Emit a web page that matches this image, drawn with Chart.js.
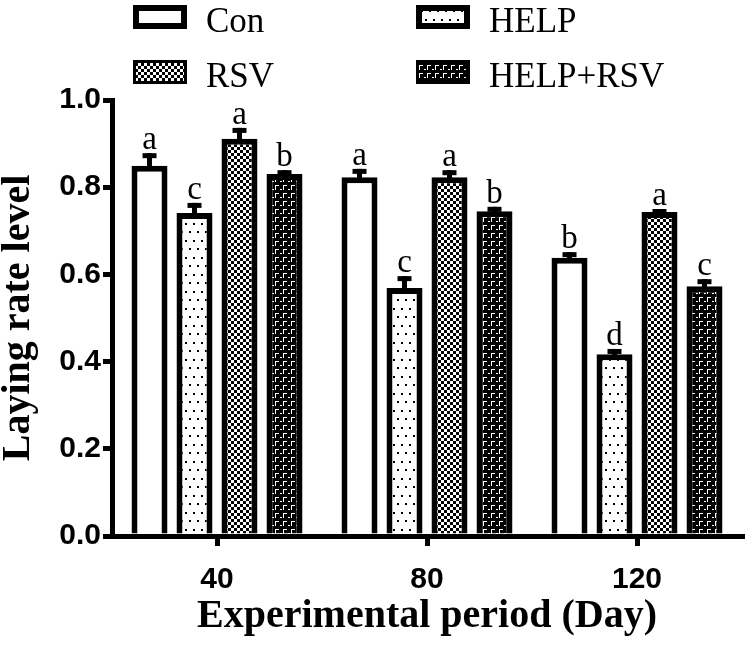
<!DOCTYPE html>
<html>
<head>
<meta charset="utf-8">
<script src="https://cdn.jsdelivr.net/npm/chart.js@4.4.0/dist/chart.umd.min.js"></script>
<style>
  html, body { margin: 0; padding: 0; background: #fff; }
</style>
</head>
<body>
<canvas id="grafico" width="747" height="647"></canvas>
<script>
// Datos
const dias = [40, 80, 120];
const grupos = ['Con', 'HELP', 'RSV', 'HELP+RSV'];
const valCon = [0.849, 0.823, 0.638];
const valHelp = [0.741, 0.569, 0.417];
const valRsv = [0.911, 0.823, 0.743];
const valHelpRsv = [0.830, 0.745, 0.573];
const errCon = [0.029, 0.019, 0.013];
const errHelp = [0.023, 0.027, 0.012];
const errRsv = [0.025, 0.016, 0.007];
const errHelpRsv = [0.009, 0.010, 0.016];
const letrasCon = ['a', 'a', 'b'];
const letrasHelp = ['c', 'c', 'd'];
const letrasRsv = ['a', 'a', 'a'];
const letrasHelpRsv = ['b', 'b', 'c'];
const ticksY = [0, 0.2, 0.4, 0.6, 0.8, 1.0];

const valores = [valCon, valHelp, valRsv, valHelpRsv];
const errores = [errCon, errHelp, errRsv, errHelpRsv];
const letras = [letrasCon, letrasHelp, letrasRsv, letrasHelpRsv];

const canvas = document.getElementById('grafico');
const ctx = canvas.getContext('2d');
const serif = '"Liberation Serif", "Times New Roman", serif';
const sans = '"Liberation Sans", Arial, sans-serif';

// Tramas de relleno de cada grupo
function hacerPatron(ancho, alto, fondo, dibujar) {
    let c = document.createElement('canvas');
    c.width = ancho;
    c.height = alto;
    let g = c.getContext('2d');
    g.fillStyle = fondo;
    g.fillRect(0, 0, ancho, alto);
    g.fillStyle = fondo === '#000' ? '#fff' : '#000';
    dibujar(g);
    return ctx.createPattern(c, 'repeat');
}
const puntos = hacerPatron(8, 17, '#fff', g => {
    g.fillRect(1, 2, 2, 2);
    g.fillRect(5, 10, 2, 2);
});
const cuadros = hacerPatron(6, 6, '#fff', g => {
    g.fillRect(0, 0, 3, 3);
    g.fillRect(3, 3, 3, 3);
});
const esquinas = hacerPatron(8, 8, '#000', g => {
    g.fillRect(0, 5, 2, 1);
    g.fillRect(3, 1, 4, 1);
    g.fillRect(3, 1, 1, 5);
});
const rellenos = ['#fff', puntos, cuadros, esquinas];
const bordesLeyenda = [6, 6, 3, 3];

// Barras de error y letras encima de cada barra
const barrasError = {
    id: 'barrasError',
    afterDatasetsDraw(chart) {
        const c = chart.ctx;
        const y = chart.scales.y;
        c.save();
        c.fillStyle = '#000';
        c.font = '33px ' + serif;
        c.textAlign = 'center';
        c.textBaseline = 'alphabetic';
        chart.data.datasets.forEach((ds, i) => {
            chart.getDatasetMeta(i).data.forEach((barra, j) => {
                let tope = y.getPixelForValue(valores[i][j] + errores[i][j]);
                c.fillRect(barra.x - 2.5, tope, 5, barra.y - tope + 1);
                c.fillRect(barra.x - 7, tope, 14, 5);
                c.fillText(letras[i][j], barra.x, tope - 4);
            });
        });
        c.restore();
    }
};

// Leyenda en dos columnas
const leyenda = {
    id: 'leyenda',
    afterDraw(chart) {
        const c = chart.ctx;
        const colX = [133, 416];
        const filaY = [5, 60];
        c.save();
        c.font = '35px ' + serif;
        c.fillStyle = '#000';
        c.textBaseline = 'alphabetic';
        chart.data.datasets.forEach((ds, i) => {
            let x = colX[i % 2];
            let yy = filaY[Math.floor(i / 2)];
            let b = bordesLeyenda[i];
            c.fillStyle = '#000';
            c.fillRect(x, yy, 54, 24);
            c.fillStyle = ds.backgroundColor;
            c.fillRect(x + b, yy + b, 54 - 2 * b, 24 - 2 * b);
            c.fillStyle = '#000';
            c.fillText(ds.label, x + 73, yy + 27);
        });
        c.restore();
    }
};

new Chart(ctx, {
    type: 'bar',
    data: {
        datasets: grupos.map((g, i) => ({
            label: g,
            data: dias.map((d, j) => ({ x: d, y: valores[i][j] })),
            backgroundColor: rellenos[i],
            borderColor: '#000',
            borderWidth: 6,
            categoryPercentage: 0.857,
            barPercentage: 0.8
        }))
    },
    options: {
        responsive: false,
        animation: false,
        devicePixelRatio: 1,
        layout: { padding: { top: 100, right: 5, left: 0, bottom: 0 } },
        plugins: { legend: { display: false }, tooltip: { enabled: false } },
        scales: {
            x: {
                type: 'linear',
                min: 20,
                max: 140,
                offset: false,
                afterBuildTicks: s => { s.ticks = dias.map(v => ({ value: v })); },
                afterFit: s => { s.height = 111; },
                grid: { drawOnChartArea: false, offset: false, color: '#000', lineWidth: 5, tickLength: 10 },
                border: { color: '#000', width: 5 },
                ticks: { color: '#000', padding: 16, font: { family: sans, size: 30, weight: 'bold' } },
                title: {
                    display: true,
                    text: 'Experimental period (Day)',
                    color: '#000',
                    font: { family: serif, size: 40, weight: 'bold' },
                    padding: { top: 0, bottom: 6 }
                }
            },
            y: {
                min: 0,
                max: 1,
                afterBuildTicks: s => { s.ticks = ticksY.map(v => ({ value: v })); },
                afterFit: s => { s.width = 112; },
                grid: { drawOnChartArea: false, color: '#000', lineWidth: 5, tickLength: 9 },
                border: { color: '#000', width: 5 },
                ticks: {
                    color: '#000',
                    padding: 2,
                    font: { family: sans, size: 30, weight: 'bold' },
                    callback: v => v.toFixed(1)
                },
                title: {
                    display: true,
                    text: 'Laying rate level',
                    color: '#000',
                    font: { family: serif, size: 40, weight: 'bold', lineHeight: 0.95 },
                    padding: { top: 0, bottom: 0 }
                }
            }
        }
    },
    plugins: [barrasError, leyenda]
});
</script>
</body>
</html>
